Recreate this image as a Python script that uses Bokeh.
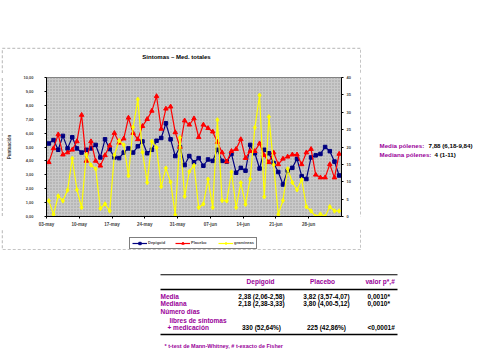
import math
from bokeh.plotting import figure
from bokeh.layouts import column, row
from bokeh.models import (Range1d, LinearAxis, FixedTicker, Label, BoxAnnotation,
                          Legend, LegendItem, Spacer)
from bokeh.embed import file_html
from bokeh.resources import INLINE

# ---------------- data ----------------
dates = ["03-may", "10-may", "17-may", "24-may", "31-may", "07-jun", "14-jun", "21-jun", "28-jun"]
depigoid = [5.25, 5.5, 4.8, 5.8, 4.9, 5.7, 4.9, 4.6, 4.8, 4.9,
            5.15, 4.25, 5.55, 4.85, 4.25, 4.2, 4.6, 4.9, 4.6, 5.05,
            5.4, 4.55, 4.8, 5.45, 5.65, 6.7, 5.55, 4.35, 5.0, 3.7,
            4.35, 3.9, 4.2, 3.65, 4.1, 4.0, 4.8, 4.0, 3.95, 4.5,
            3.15, 3.5, 3.3, 5.15, 4.55, 3.45, 4.8, 4.55, 3.85, 3.2,
            2.3, 3.3, 3.5, 4.15, 2.9, 2.7, 4.25, 4.4, 4.5, 5.0,
            4.7, 3.95, 2.95]
placebo = [3.9, 4.9, 5.9, 4.45, 4.6, 4.8, 5.4, 7.3, 4.0, 5.4,
           4.0, 3.65, 4.4, 5.1, 6.0, 5.3, 5.6, 7.1, 6.0, 5.55,
           6.5, 7.0, 7.6, 8.65, 6.3, 7.75, 7.9, 6.05, 5.0, 6.9,
           6.6, 7.05, 5.7, 6.6, 6.35, 6.1, 5.35, 4.6, 3.95, 4.7,
           4.85, 5.55, 4.2, 4.7, 4.7, 5.25, 4.4, 3.9, 4.6, 3.75,
           4.15, 4.3, 4.45, 4.45, 3.75, 4.6, 4.85, 3.0, 2.8, 2.8,
           3.75, 2.8, 4.5]
polen = [4.5, 0.6, 5.9, 4.5, 7.6, 16.7, 7.7, 2.6, 17.8, 14.8,
         13.7, 2.3, 3.6, 1.6, 17.7, 21.8, 20.6, 11.7, 25.7, 33.7,
         18.5, 9.8, 21.6, 19.8, 8.6, 13.9, 9.9, 0.5, 22.7, 5.8,
         12.9, 14.7, 2.6, 3.6, 10.7, 2.6, 27.8, 4.6, 4.5, 12.8,
         2.6, 9.7, 3.5, 10.8, 25.6, 34.9, 5.7, 28.7, 14.9, 0.6,
         4.6, 13.7, 9.8, 7.7, 10.6, 2.8, 1.6, 0.0, 0.7, 0.0,
         2.8, 1.6, 1.6]
left_ticks = [0, 1, 2, 3, 4, 5, 6, 7, 8, 9, 10]
right_ticks = [0, 5, 10, 15, 20, 25, 30, 35, 40]
series_names = ["Depigoid", "Placebo", "gramíneas"]
chart_title = "Síntomas – Med. totales"
y_title = "Puntuación"

table_header = ["Depigoid", "Placebo", "valor p*,#"]
table_rows = ["Media", "Mediana", "Número días", "libres de síntomas", "+ medicación"]
table_dep = ["2,38 (2,06-2,58)", "2,18 (2,38-3,33)", "", "", "330 (52,64%)"]
table_pla = ["3,82 (3,57-4,07)", "3,80 (4,00-5,12)", "", "", "225 (42,86%)"]
table_p = ["0,0010*", "0,0010*", "", "", "<0,0001#"]
footnote = "* t-test de Mann-Whitney, # t-exacto de Fisher"
side_labels = ["Media pólenes:", "Mediana pólenes:"]
side_values = ["7,88 (6,18-9,84)", "4 (1-11)"]

FONT = "Liberation Sans"
MAG = "#990099"
BORDER = dict(left=1.75, right=360.25, top=47.75, bottom=249.25)
STYLE = [("#000080", "square", 3.5), ("#FF0000", "triangle", 4.5), ("#FFFF00", "diamond", 4.5)]


def page_fig(x0, x1, y0, y1, border=False):
    """A blank figure whose frame is the whole figure, in page pixel coordinates."""
    f = figure(width=x1 - x0, height=y1 - y0, x_range=Range1d(x0, x1),
               y_range=Range1d(y1, y0), x_axis_location=None, y_axis_location=None,
               min_border=0, output_backend="svg", toolbar_location=None)
    f.grid.grid_line_color = None
    f.outline_line_color = None
    f.background_fill_color = "white"
    f.border_fill_color = "white"
    if border:
        f.add_layout(BoxAnnotation(**BORDER, fill_alpha=0, line_color="#404040",
                                   line_width=1.5, line_dash="3 2"))
    return f


def txt(f, x, y, s, size="6.5px", color="black", align="left", angle=0.0):
    f.add_layout(Label(x=x, y=y, text=s, text_font=FONT, text_font_style="bold",
                       text_font_size=size, text_color=color, text_align=align,
                       text_baseline="middle", angle=angle))


def hline(f, x0, x1, y, w=1.0):
    f.add_layout(BoxAnnotation(left=x0, right=x1, top=y - w / 2, bottom=y + w / 2,
                               fill_color="black", fill_alpha=1, line_alpha=0))


# ---------------- chart ----------------
n = len(depigoid)
xs = [i + 0.5 for i in range(n)]
series = [depigoid, placebo, polen]

p = figure(width=354, height=156, min_border_left=40, min_border_right=17,
           min_border_top=4, min_border_bottom=13,
           x_range=Range1d(0, n), y_range=Range1d(0, 10),
           output_backend="svg", toolbar_location=None)
p.extra_y_ranges = {"pol": Range1d(0, 40)}
p.background_fill_color = "#c9c9c9"
p.border_fill_color = "white"
p.outline_line_color = "#808080"
p.grid.grid_line_color = None
p.add_layout(BoxAnnotation(left=0, right=n, bottom=0, top=10, fill_alpha=0,
                           line_alpha=0, hatch_pattern=".", hatch_color="#9a9a9a",
                           hatch_scale=3, hatch_weight=1, level="underlay"))

ya = p.yaxis[0]
ya.ticker = FixedTicker(ticks=left_ticks)
ya.major_label_overrides = {t: f"{t},00" for t in left_ticks}
ya.axis_label = y_title
ya.axis_label_text_font = FONT
ya.axis_label_text_font_style = "bold"
ya.axis_label_text_font_size = "4.5px"
ya.axis_label_standoff = 8

xa = p.xaxis[0]
xt = [7 * k for k in range(len(dates))]
xa.ticker = FixedTicker(ticks=xt)
xa.major_label_overrides = {t: d for t, d in zip(xt, dates)}

ra = LinearAxis(y_range_name="pol", ticker=FixedTicker(ticks=right_ticks))
p.add_layout(ra, "right")

for ax, fs, so in ((ya, "4px", 11), (xa, "4.5px", 3), (ra, "4px", 3)):
    ax.major_label_text_font = FONT
    ax.major_label_text_font_style = "bold"
    ax.major_label_text_font_size = fs
    ax.major_tick_in = 0
    ax.major_tick_out = 2
    ax.minor_tick_line_color = None
    ax.major_label_standoff = so
    ax.axis_line_color = "black"

for vals, (col, mk, sz), rng in zip(series, STYLE, ["default", "default", "pol"]):
    p.line(xs, vals, line_color=col, line_width=1.2, y_range_name=rng)
    p.scatter(xs, vals, marker=mk, size=sz, color=col, y_range_name=rng)

# ---------------- frame strips (title, legend and the dashed chart border) ----------------
tf = page_fig(1, 361, 47, 73, border=True)
txt(tf, 176, 56.5, chart_title, size="6px", align="center")
left_strip = page_fig(1, 4, 73, 229, border=True)
right_strip = page_fig(358, 361, 73, 229, border=True)

lf = page_fig(1, 361, 229, 250, border=True)
items = []
for name, vals, (col, mk, sz) in zip(series_names, series, STYLE):
    # same series drawn in the legend strip; they fall outside its range, only the key shows
    r1 = lf.line(xs, vals, line_color=col, line_width=1.2)
    r2 = lf.scatter(xs, vals, marker=mk, size=sz, color=col)
    items.append(LegendItem(label=name, renderers=[r1, r2]))
legend = Legend(items=items, location=(128, 1.5), orientation="horizontal",
                glyph_width=15, glyph_height=6, label_height=6, label_standoff=1,
                spacing=7, padding=2, margin=0,
                label_text_font=FONT, label_text_font_style="bold",
                label_text_font_size="4px", border_line_color="black",
                border_line_width=1, background_fill_color="white")
lf.add_layout(legend)

chart_block = column(tf, row(left_strip, p, right_strip, spacing=0), lf, spacing=0)

# ---------------- side text ----------------
sf = page_fig(361, 478, 47, 250)
side_y = [145, 154]
txt(sf, 379, side_y[0], side_labels[0], size="6.2px", color=MAG)
txt(sf, 428, side_y[0], side_values[0], size="6.2px")
txt(sf, 379, side_y[1], side_labels[1], size="6.2px", color=MAG)
txt(sf, 434, side_y[1], side_values[1], size="6.2px")

# ---------------- table ----------------
tb = page_fig(0, 478, 250, 358)
hline(tb, 160, 397, 274.3)
hline(tb, 160, 397, 289, 1.3)
hline(tb, 160, 397, 334, 1.3)
txt(tb, 260, 281, table_header[0], color=MAG, align="center")
txt(tb, 322, 281, table_header[1], color=MAG, align="center")
txt(tb, 365, 281, table_header[2], color=MAG)
row_y = [295.7, 303.3, 311.3, 319.7, 327.3]
row_x = [160, 160, 160, 169, 167]
for lab, yy, xx, a, b, c in zip(table_rows, row_y, row_x, table_dep, table_pla, table_p):
    txt(tb, xx, yy, lab, color=MAG)
    if a:
        txt(tb, 261, yy, a, align="center")
    if b:
        txt(tb, 326, yy, b, align="center")
    if c:
        txt(tb, 367, yy, c)
txt(tb, 164, 345, footnote, size="5.5px", color=MAG)

page = column(Spacer(width=478, height=47),
              row(Spacer(width=1, height=203), chart_block, sf, spacing=0),
              tb, spacing=0)

open("out.html", "w").write(file_html(page, INLINE))
